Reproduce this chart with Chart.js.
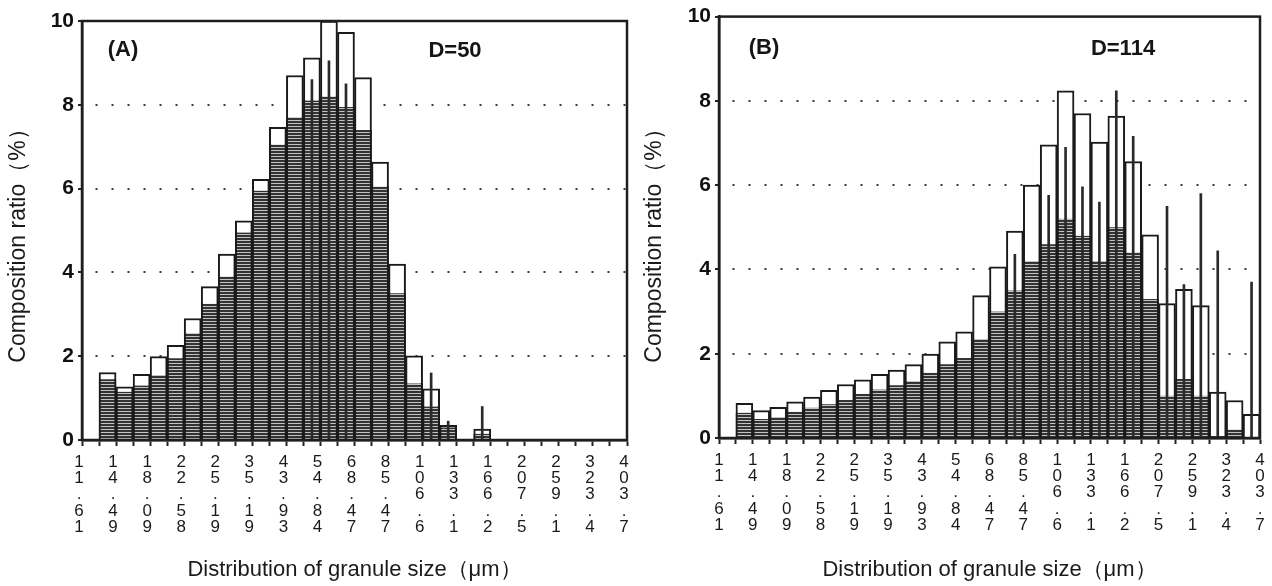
<!DOCTYPE html>
<html lang="en">
<head>
<meta charset="UTF-8">
<title>Distribution of granule size</title>
<script src="https://cdn.jsdelivr.net/npm/chart.js"></script>
<style>
  body { margin: 0; background: #fff; }
  .panel { position: absolute; top: 0; width: 636px; height: 586px; }
  #panelA { left: 0; }
  #panelB { left: 636px; }
</style>
</head>
<body>
<div class="panel" id="panelA"><canvas id="chartA"></canvas></div>
<div class="panel" id="panelB"><canvas id="chartB"></canvas></div>

<script>
// granule size at every second bin edge (um), printed top to bottom
var edgeLabels = ["11.61", "14.49", "18.09", "22.58", "25.19", "35.19", "43.93", "54.84", "68.47",
                  "85.47", "106.6", "133.1", "166.2", "207.5", "259.1", "323.4", "403.7"];
var yTicks = [0, 2, 4, 6, 8, 10];

// (A) D=50 : composition ratio (%) per bin, 32 bins
var ratioA = [0, 1.61, 1.27, 1.57, 1.99, 2.26, 2.90, 3.66, 4.44, 5.23, 6.22, 7.46, 8.70, 9.12, 10.0, 9.73,
              8.65, 6.63, 4.20, 2.01, 1.22, 0.35, 0, 0.26, 0, 0, 0, 0, 0, 0, 0, 0];
var shadedA = [0, 1.45, 1.15, 1.30, 1.55, 1.95, 2.55, 3.25, 3.90, 4.95, 5.95, 7.05, 7.70, 8.10, 8.20, 7.95,
               7.40, 6.05, 3.50, 1.35, 0.80, 0.30, 0, 0.15, 0, 0, 0, 0, 0, 0, 0, 0];
var peakA = [null, null, null, null, null, null, null, null, null, null, null, null, null, 8.6, 9.05, 8.5,
             null, null, null, null, 1.6, 0.45, null, 0.8, null, null, null, null, null, null, null, null];

// (B) D=114
var ratioB = [0, 0.82, 0.65, 0.73, 0.86, 0.97, 1.13, 1.27, 1.38, 1.51, 1.61, 1.74, 1.99, 2.28, 2.52, 3.38,
              4.06, 4.91, 6.00, 6.96, 8.24, 7.70, 7.02, 7.64, 6.56, 4.82, 3.19, 3.53, 3.14, 1.09, 0.89, 0.56];
var shadedB = [0, 0.60, 0.45, 0.50, 0.62, 0.72, 0.80, 0.90, 1.05, 1.15, 1.25, 1.35, 1.55, 1.75, 1.90, 2.35,
               3.00, 3.50, 4.20, 4.60, 5.20, 4.80, 4.20, 5.00, 4.40, 3.30, 1.00, 1.40, 1.00, 0.05, 0.20, 0];
var peakB = [null, null, null, null, null, null, null, null, null, null, null, null, null, null, null, null,
             null, 4.36, null, 5.76, 6.90, 5.96, 5.60, 8.24, 7.16, null, 5.50, 3.64, 5.80, 4.44, null, 3.70];

var FONT = '"Liberation Sans", Arial, sans-serif';

function toPoints(arr) {
    return arr.map(function (v, i) { return { x: i + 0.5, y: v }; });
}

function makeHatch() {
    var c = document.createElement('canvas');
    c.width = 8;
    c.height = 3;
    var g = c.getContext('2d');
    g.fillStyle = '#333333';
    g.fillRect(0, 0, 8, 3);
    g.fillStyle = '#c2c2c2';
    g.fillRect(0, 0, 8, 1);
    return g.createPattern(c, 'repeat');
}

// frame round the plot, the panel notes and the y title
var framePlugin = {
    id: 'frame',
    afterDatasetsDraw: function (chart) {
        var a = chart.chartArea, ctx = chart.ctx;
        ctx.save();
        ctx.strokeStyle = '#1e1e1e';
        ctx.lineWidth = 2.5;
        ctx.strokeRect(a.left, a.top, a.right - a.left, a.bottom - a.top);
        ctx.restore();
    },
    afterDraw: function (chart) {
        var n = chart.options.plugins.frame;
        var ctx = chart.ctx;
        ctx.save();
        ctx.fillStyle = '#151515';
        ctx.font = 'bold 22px ' + FONT;
        ctx.textAlign = 'center';
        ctx.textBaseline = 'middle';
        ctx.fillText(n.tag, n.tagX, n.tagY);
        ctx.fillText(n.note, n.noteX, n.noteY);

        ctx.translate(n.yTitleX, n.yTitleY);
        ctx.rotate(-Math.PI / 2);
        ctx.font = '23px ' + FONT;
        ctx.fillStyle = '#1a1a1a';
        ctx.fillText('Composition ratio（%）', 0, 0);
        ctx.restore();
    }
};

function makeChart(id, ratio, shaded, peak, p) {
    var hatch = makeHatch();
    return new Chart(document.getElementById(id), {
        type: 'bar',
        data: {
            datasets: [
                {
                    label: 'ratio',
                    data: toPoints(ratio),
                    backgroundColor: '#ffffff',
                    borderColor: '#1a1a1a',
                    borderWidth: 2,
                    grouped: false,
                    barPercentage: 1,
                    categoryPercentage: 1,
                    order: 3
                },
                {
                    label: 'shaded',
                    data: toPoints(shaded),
                    backgroundColor: hatch,
                    borderColor: '#1a1a1a',
                    borderWidth: { left: 2, right: 2, top: 0, bottom: 0 },
                    grouped: false,
                    barPercentage: 1,
                    categoryPercentage: 1,
                    order: 2
                },
                {
                    label: 'peak',
                    data: toPoints(peak),
                    backgroundColor: '#2a2a2a',
                    borderWidth: 0,
                    grouped: false,
                    barThickness: 2,
                    order: 1
                }
            ]
        },
        options: {
            responsive: true,
            maintainAspectRatio: false,
            animation: false,
            layout: { padding: { top: p.top, right: p.right, bottom: 0, left: 0 } },
            plugins: {
                legend: { display: false },
                tooltip: { enabled: false },
                frame: p
            },
            scales: {
                x: {
                    type: 'linear',
                    min: 0,
                    max: 32,
                    offset: false,
                    afterFit: function (s) {
                        s.height = p.xHeight;
                        s.paddingLeft = 0;
                        s.paddingRight = 0;
                    },
                    afterBuildTicks: function (s) {
                        s.ticks = [];
                        for (var i = 0; i <= 32; i++) s.ticks.push({ value: i });
                    },
                    grid: {
                        offset: false,
                        drawOnChartArea: false,
                        drawTicks: true,
                        tickLength: 6,
                        tickWidth: 2,
                        tickColor: '#222'
                    },
                    border: { color: '#1e1e1e', width: 2.5 },
                    ticks: {
                        autoSkip: false,
                        maxRotation: 0,
                        minRotation: 0,
                        padding: 8,
                        labelOffset: p.labelShift,
                        color: '#1a1a1a',
                        font: { family: FONT, size: 17, lineHeight: 0.96 },
                        callback: function (v) {
                            var k = Math.round(v);
                            return k % 2 === 0 ? edgeLabels[k / 2].split('') : '';
                        }
                    },
                    title: {
                        display: true,
                        text: 'Distribution of granule size（μm）',
                        color: '#1a1a1a',
                        font: { family: FONT, size: 22 },
                        padding: { top: 0, bottom: 3 }
                    }
                },
                y: {
                    min: 0,
                    max: 10,
                    afterFit: function (s) { s.width = p.yWidth; },
                    afterBuildTicks: function (s) {
                        s.ticks = yTicks.map(function (v) { return { value: v }; });
                    },
                    grid: {
                        color: function (c) {
                            return (c.tick.value === 0 || c.tick.value === 10) ? 'rgba(0,0,0,0)' : '#3a3a3a';
                        },
                        lineWidth: 2,
                        drawTicks: true,
                        tickLength: 4,
                        tickColor: '#222'
                    },
                    border: { color: '#1e1e1e', width: 2.5, dash: [2, 14], dashOffset: -12 },
                    ticks: {
                        padding: 4,
                        color: '#111',
                        font: { family: FONT, size: 21, weight: 'bold' }
                    },
                    title: { display: false }
                }
            }
        },
        plugins: [framePlugin]
    });
}

makeChart('chartA', ratioA, shadedA, peakA, {
    top: 21, right: 9, xHeight: 146, yWidth: 82, labelShift: -3,
    tag: '(A)', note: 'D=50', tagX: 123, tagY: 50, noteX: 455, noteY: 51,
    yTitleX: 19, yTitleY: 240
});
makeChart('chartB', ratioB, shadedB, peakB, {
    top: 16, right: 12, xHeight: 148, yWidth: 83, labelShift: 0,
    tag: '(B)', note: 'D=114', tagX: 128, tagY: 48, noteX: 487, noteY: 49,
    yTitleX: 19, yTitleY: 240
});
</script>
</body>
</html>
